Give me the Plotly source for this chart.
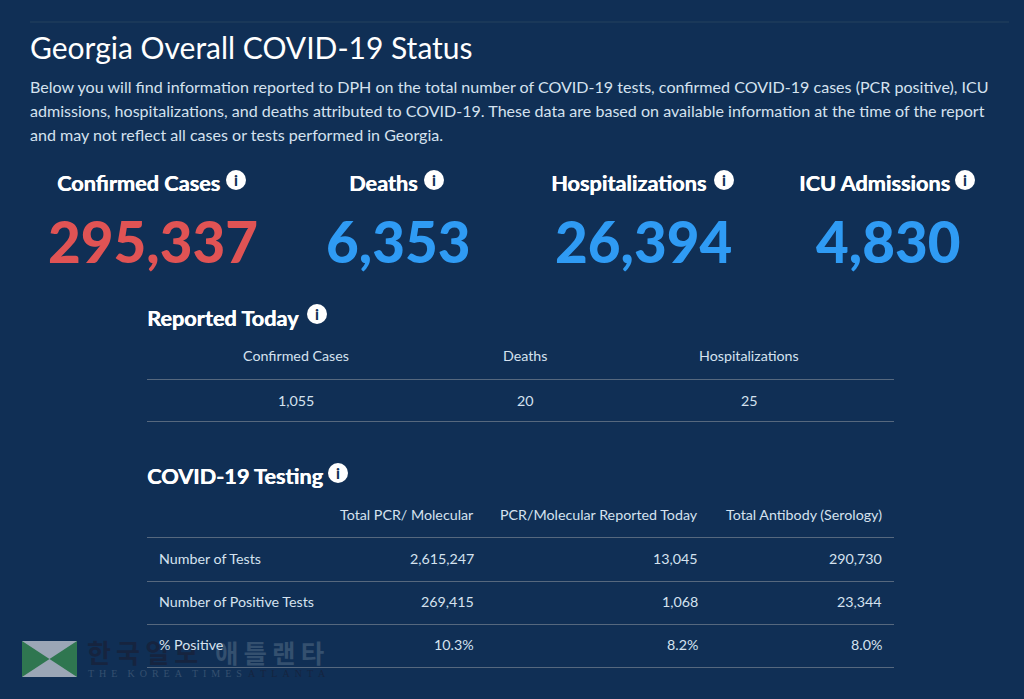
import plotly.graph_objects as go

BG = "#102f55"
WHITE = "#ffffff"
BODY = "#d5e2ef"
RED = "#e05354"
BLUE = "#2f9bf4"
LINE = "#56687e"
FONT = "Lato"

# ---- data ----
title = "Georgia Overall COVID-19 Status"
intro = [
    "Below you will find information reported to DPH on the total number of COVID-19 tests, confirmed COVID-19 cases (PCR positive), ICU",
    "admissions, hospitalizations, and deaths attributed to COVID-19. These data are based on available information at the time of the report",
    "and may not reflect all cases or tests performed in Georgia.",
]
kpi_labels = ["Confirmed Cases", "Deaths", "Hospitalizations", "ICU Admissions"]
kpi_values = ["295,337", "6,353", "26,394", "4,830"]
today_heading = "Reported Today"
today_cols = ["Confirmed Cases", "Deaths", "Hospitalizations"]
today_vals = ["1,055", "20", "25"]
testing_heading = "COVID-19 Testing"
testing_cols = ["Total PCR/ Molecular", "PCR/Molecular Reported Today", "Total Antibody (Serology)"]
testing_rows = ["Number of Tests", "Number of Positive Tests", "% Positive"]
testing_pcr = ["2,615,247", "269,415", "10.3%"]
testing_today = ["13,045", "1,068", "8.2%"]
testing_antibody = ["290,730", "23,344", "8.0%"]
wm_korean_a = "한\u2009국\u2009일\u2009보"
wm_korean_b = "애\u2009틀\u2009랜\u2009타"
wm_english_a = "T\u2002H\u2002E\u2003K\u2002O\u2002R\u2002E\u2002A\u2003T\u2002I\u2002M\u2002E\u2002S"
wm_english_b = "A\u2002T\u2002L\u2002A\u2002N\u2002T\u2002A"

# ---- layout positions ----
kpi_label_x = [138, 383, 628.5, 874]
kpi_value_x = [153, 398, 643, 888]
kpi_icon_x = [236, 434, 724, 965]
today_x = [296, 525, 749]
test_x = [475.5, 700, 884]
test_row_y = [558, 601, 644]
test_lines_y = [537.5, 581.5, 624.5, 667.5]

fig = go.Figure()
ann = []
shapes = []


def text(x, y, s, size, color=WHITE, anchor="left", weight=400, family=FONT, opacity=1, shadow=None):
    f = dict(size=size, color=color, family=family, weight=weight)
    if shadow:
        f["shadow"] = shadow
    ann.append(dict(x=x, y=y, text=s, xref="x", yref="y", showarrow=False, xanchor=anchor,
                    yanchor="middle", opacity=opacity, font=f))


def hline(x0, x1, y, color=LINE, width=1):
    shapes.append(dict(type="line", x0=x0, x1=x1, y0=y, y1=y, xref="x", yref="y",
                       line=dict(color=color, width=width)))


def icon(x, y, r=10):
    shapes.append(dict(type="circle", x0=x - r, x1=x + r, y0=y - r, y1=y + r, xref="x", yref="y",
                       fillcolor=WHITE, line=dict(width=0)))
    text(x, y, "i", 15, BG, "center", 900)


# watermark first, so the table text stays on top of it
shapes.append(dict(type="rect", x0=22, x1=77, y0=641, y1=677, xref="x", yref="y",
                   fillcolor="#2f7650", line=dict(width=0)))
shapes.append(dict(type="path", path="M 22 641 L 77 641 L 49.5 659 Z", xref="x", yref="y",
                   fillcolor="#9ba6b6", line=dict(width=0)))
shapes.append(dict(type="path", path="M 22 677 L 77 677 L 49.5 659 Z", xref="x", yref="y",
                   fillcolor="#9ba6b6", line=dict(width=0)))
text(85, 651, wm_korean_a, 26, "#16243f", "left", 700, "Noto Sans CJK KR")
text(213, 651, wm_korean_b, 25.5, "#34506f", "left", 700, "Noto Sans CJK KR")
text(86, 673, wm_english_a, 10, "#35506f", "left", 400, "Liberation Serif")
text(246, 673, wm_english_b, 10, "#16243f", "left", 400, "Liberation Serif")

hline(30, 1009, 22, "#24425f")
text(28, 47, title, 30)
for yy, s in zip([86, 110, 134], intro):
    text(28, yy, s, 16.07, BODY)

for lx, vx, ix, lab, val, col in zip(kpi_label_x, kpi_value_x, kpi_icon_x, kpi_labels, kpi_values,
                                     [RED, BLUE, BLUE, BLUE]):
    text(lx, 183, lab, 21.7, WHITE, "center", 700, shadow="0.5px 0 0 #ffffff")
    text(vx, 241, val, 56.5, col, "center", 900)
    icon(ix, 180)

text(145, 317.5, today_heading, 21.7, WHITE, "left", 700, shadow="0.5px 0 0 #ffffff")
icon(317, 314)
for x, c, v in zip(today_x, today_cols, today_vals):
    text(x, 355, c, 14.25, BODY, "center")
    text(x, 400, v, 14.25, BODY, "center")
hline(147, 894, 379.5)
hline(147, 894, 421.5)

text(144.5, 475.5, testing_heading, 21.7, WHITE, "left", 700, shadow="0.5px 0 0 #ffffff")
icon(338, 473)
for x, c in zip(test_x, testing_cols):
    text(x, 514, c, 14.25, BODY, "right")
for yy in test_lines_y:
    hline(147, 894, yy)
for yy, r, a, b, c in zip(test_row_y, testing_rows, testing_pcr, testing_today, testing_antibody):
    text(156.5, yy, r, 14.25, BODY)
    text(test_x[0], yy, a, 14.25, BODY, "right")
    text(test_x[1], yy, b, 14.25, BODY, "right")
    text(test_x[2], yy, c, 14.25, BODY, "right")

fig.update_layout(
    width=1024, height=699, margin=dict(l=0, r=0, t=0, b=0),
    paper_bgcolor=BG, plot_bgcolor=BG, showlegend=False,
    xaxis=dict(range=[0, 1024], visible=False, fixedrange=True),
    yaxis=dict(range=[699, 0], visible=False, fixedrange=True),
    annotations=ann, shapes=shapes,
)
fig.write_html("out.html", post_script="document.body.style.margin='0';document.body.style.background='%s';" % BG,
               config=dict(displayModeBar=False))
